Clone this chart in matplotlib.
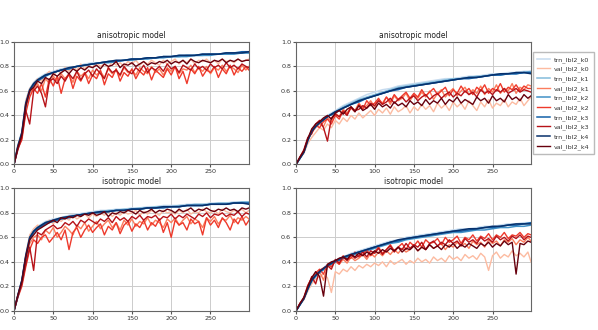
"""Accuracy curves per fold: anisotropic vs isotropic model, two label sets."""
import numpy as np
import matplotlib
matplotlib.use("Agg")
import matplotlib.pyplot as plt

# training curves are sampled coarser, validation curves every 5 epochs
trn_epochs = [0, 5, 10, 15, 20, 25, 30, 40, 50, 60, 70, 80, 90, 100, 110, 120, 130,
              140, 150, 160, 170, 180, 190, 200, 210, 220, 230, 240, 250, 260, 270,
              280, 290, 299]
val_epochs = list(range(0, 300, 5)) + [299]

folds = ["k0", "k1", "k2", "k3", "k4"]
titles = ["anisotropic model", "anisotropic model", "isotropic model", "isotropic model"]

# --- top-left: anisotropic ---
a1_trn = [
    [0.00, 0.16, 0.27, 0.52, 0.62, 0.67, 0.70, 0.74, 0.76, 0.78, 0.79, 0.80, 0.82, 0.83, 0.83, 0.84, 0.85, 0.85, 0.86, 0.86, 0.87, 0.87, 0.88, 0.88, 0.88, 0.89, 0.89, 0.89, 0.90, 0.90, 0.90, 0.91, 0.91, 0.91],
    [0.00, 0.15, 0.26, 0.50, 0.61, 0.66, 0.69, 0.73, 0.75, 0.77, 0.79, 0.80, 0.81, 0.82, 0.83, 0.84, 0.84, 0.85, 0.86, 0.86, 0.87, 0.87, 0.88, 0.88, 0.88, 0.89, 0.89, 0.89, 0.90, 0.90, 0.90, 0.91, 0.91, 0.91],
    [0.00, 0.15, 0.25, 0.49, 0.60, 0.65, 0.69, 0.73, 0.75, 0.77, 0.78, 0.80, 0.81, 0.82, 0.83, 0.83, 0.84, 0.85, 0.85, 0.86, 0.86, 0.87, 0.87, 0.88, 0.88, 0.88, 0.89, 0.89, 0.89, 0.90, 0.90, 0.90, 0.91, 0.91],
    [0.00, 0.14, 0.25, 0.48, 0.60, 0.65, 0.68, 0.72, 0.75, 0.77, 0.78, 0.80, 0.81, 0.82, 0.83, 0.84, 0.84, 0.85, 0.86, 0.86, 0.87, 0.87, 0.88, 0.88, 0.89, 0.89, 0.89, 0.90, 0.90, 0.90, 0.91, 0.91, 0.92, 0.92],
    [0.00, 0.15, 0.26, 0.50, 0.61, 0.66, 0.69, 0.73, 0.75, 0.77, 0.79, 0.80, 0.81, 0.82, 0.83, 0.84, 0.85, 0.85, 0.86, 0.86, 0.87, 0.87, 0.88, 0.88, 0.89, 0.89, 0.89, 0.90, 0.90, 0.90, 0.91, 0.91, 0.91, 0.92],
]
a1_val = [
    [0.00, 0.16, 0.26, 0.52, 0.62, 0.66, 0.70, 0.68, 0.73, 0.76,
     0.72, 0.77, 0.74, 0.79, 0.76, 0.80, 0.77, 0.82, 0.78, 0.81,
     0.79, 0.83, 0.80, 0.82, 0.79, 0.84, 0.81, 0.83, 0.80, 0.84,
     0.82, 0.85, 0.81, 0.84, 0.82, 0.85, 0.83, 0.81, 0.85, 0.82,
     0.84, 0.86, 0.82, 0.85, 0.83, 0.86, 0.82, 0.85, 0.84, 0.86,
     0.83, 0.85, 0.82, 0.86, 0.84, 0.85, 0.83, 0.86, 0.84, 0.85,
     0.86],
    [0.00, 0.14, 0.22, 0.46, 0.58, 0.62, 0.66, 0.60, 0.70, 0.66,
     0.72, 0.68, 0.74, 0.70, 0.73, 0.67, 0.76, 0.72, 0.75, 0.70,
     0.77, 0.73, 0.76, 0.71, 0.78, 0.74, 0.77, 0.72, 0.79, 0.75,
     0.77, 0.73, 0.79, 0.76, 0.74, 0.80, 0.75, 0.78, 0.73, 0.79,
     0.76, 0.80, 0.74, 0.78, 0.77, 0.81, 0.75, 0.79, 0.76, 0.80,
     0.74, 0.79, 0.77, 0.81, 0.76, 0.80, 0.78, 0.75, 0.81, 0.77,
     0.80],
    [0.00, 0.13, 0.20, 0.42, 0.55, 0.62, 0.58, 0.66, 0.55, 0.70,
     0.64, 0.72, 0.58, 0.70, 0.74, 0.62, 0.72, 0.68, 0.75, 0.66,
     0.73, 0.70, 0.77, 0.65, 0.74, 0.71, 0.78, 0.68, 0.75, 0.72,
     0.78, 0.70, 0.76, 0.73, 0.79, 0.69, 0.77, 0.74, 0.71, 0.78,
     0.73, 0.80, 0.70, 0.76, 0.66, 0.78, 0.74, 0.80, 0.72, 0.77,
     0.75, 0.80, 0.71, 0.78, 0.74, 0.81, 0.73, 0.79, 0.76, 0.80,
     0.77],
    [0.00, 0.12, 0.22, 0.44, 0.33, 0.60, 0.64, 0.58, 0.47, 0.68,
     0.70, 0.66, 0.72, 0.68, 0.74, 0.70, 0.76, 0.69, 0.74, 0.77,
     0.72, 0.78, 0.74, 0.70, 0.79, 0.75, 0.77, 0.73, 0.80, 0.76,
     0.74, 0.79, 0.76, 0.81, 0.75, 0.79, 0.77, 0.80, 0.76, 0.82,
     0.78, 0.80, 0.75, 0.81, 0.79, 0.77, 0.82, 0.78, 0.80, 0.77,
     0.82, 0.79, 0.81, 0.78, 0.83, 0.79, 0.81, 0.78, 0.82, 0.80,
     0.79],
    [0.00, 0.14, 0.24, 0.48, 0.60, 0.63, 0.68, 0.66, 0.71, 0.69,
     0.74, 0.72, 0.75, 0.77, 0.74, 0.78, 0.76, 0.79, 0.77, 0.80,
     0.79, 0.81, 0.78, 0.82, 0.80, 0.81, 0.84, 0.79, 0.82, 0.81,
     0.83, 0.80, 0.82, 0.84, 0.81, 0.83, 0.82, 0.84, 0.83, 0.85,
     0.82, 0.84, 0.83, 0.85, 0.82, 0.86, 0.84, 0.83, 0.85, 0.84,
     0.83, 0.85, 0.84, 0.86, 0.83, 0.85, 0.84, 0.86, 0.84, 0.85,
     0.85],
]

# --- top-right: anisotropic ---
a2_trn = [
    [0.00, 0.05, 0.10, 0.20, 0.28, 0.32, 0.35, 0.40, 0.44, 0.48, 0.51, 0.54, 0.57, 0.59, 0.61, 0.62, 0.64, 0.65, 0.66, 0.67, 0.68, 0.69, 0.70, 0.70, 0.71, 0.72, 0.72, 0.73, 0.74, 0.74, 0.75, 0.75, 0.76, 0.76],
    [0.00, 0.05, 0.10, 0.20, 0.27, 0.31, 0.34, 0.39, 0.43, 0.47, 0.50, 0.53, 0.55, 0.57, 0.59, 0.61, 0.63, 0.64, 0.65, 0.66, 0.67, 0.68, 0.69, 0.70, 0.70, 0.71, 0.72, 0.72, 0.73, 0.74, 0.74, 0.75, 0.75, 0.76],
    [0.00, 0.05, 0.10, 0.19, 0.27, 0.31, 0.34, 0.39, 0.43, 0.46, 0.49, 0.52, 0.54, 0.56, 0.58, 0.60, 0.62, 0.63, 0.64, 0.65, 0.66, 0.67, 0.68, 0.69, 0.70, 0.71, 0.71, 0.72, 0.73, 0.73, 0.74, 0.74, 0.75, 0.75],
    [0.00, 0.05, 0.10, 0.20, 0.27, 0.31, 0.34, 0.39, 0.42, 0.46, 0.49, 0.51, 0.54, 0.56, 0.58, 0.60, 0.61, 0.63, 0.64, 0.65, 0.66, 0.67, 0.68, 0.69, 0.70, 0.70, 0.71, 0.72, 0.73, 0.73, 0.74, 0.74, 0.75, 0.75],
    [0.00, 0.05, 0.10, 0.20, 0.27, 0.31, 0.34, 0.39, 0.43, 0.46, 0.49, 0.52, 0.54, 0.56, 0.58, 0.60, 0.62, 0.63, 0.64, 0.65, 0.66, 0.67, 0.68, 0.69, 0.70, 0.71, 0.71, 0.72, 0.73, 0.74, 0.74, 0.75, 0.75, 0.74],
]
a2_val = [
    [0.00, 0.05, 0.09, 0.17, 0.22, 0.26, 0.30, 0.28, 0.33, 0.30,
     0.36, 0.33, 0.38, 0.35, 0.40, 0.37, 0.42, 0.38, 0.41, 0.44,
     0.40, 0.45, 0.42, 0.46, 0.41, 0.47, 0.43, 0.45, 0.48, 0.42,
     0.47, 0.44, 0.49, 0.45, 0.48, 0.43, 0.50, 0.46, 0.49, 0.44,
     0.51, 0.47, 0.50, 0.45, 0.52, 0.48, 0.44, 0.51, 0.47, 0.53,
     0.46, 0.50, 0.48, 0.53, 0.47, 0.51, 0.49, 0.54, 0.48, 0.52,
     0.55],
    [0.00, 0.05, 0.10, 0.20, 0.26, 0.30, 0.33, 0.31, 0.38, 0.35,
     0.42, 0.39, 0.45, 0.42, 0.47, 0.44, 0.50, 0.46, 0.48, 0.52,
     0.47, 0.53, 0.50, 0.55, 0.49, 0.56, 0.52, 0.54, 0.58, 0.52,
     0.57, 0.54, 0.59, 0.55, 0.60, 0.53, 0.58, 0.61, 0.55, 0.59,
     0.62, 0.56, 0.60, 0.63, 0.57, 0.61, 0.58, 0.64, 0.57, 0.62,
     0.59, 0.65, 0.58, 0.62, 0.60, 0.66, 0.58, 0.63, 0.61, 0.65,
     0.64],
    [0.00, 0.06, 0.11, 0.21, 0.28, 0.32, 0.30, 0.35, 0.37, 0.33,
     0.40, 0.37, 0.44, 0.41, 0.46, 0.43, 0.49, 0.45, 0.52, 0.48,
     0.50, 0.54, 0.49, 0.55, 0.51, 0.57, 0.53, 0.56, 0.59, 0.54,
     0.58, 0.55, 0.61, 0.56, 0.59, 0.62, 0.57, 0.60, 0.63, 0.56,
     0.61, 0.58, 0.64, 0.59, 0.62, 0.57, 0.63, 0.60, 0.65, 0.58,
     0.62, 0.60, 0.66, 0.59, 0.63, 0.61, 0.65, 0.60, 0.64, 0.62,
     0.62],
    [0.00, 0.06, 0.12, 0.22, 0.25, 0.33, 0.36, 0.30, 0.19, 0.38,
     0.41, 0.39, 0.43, 0.40, 0.47, 0.44, 0.45, 0.48, 0.46, 0.50,
     0.48, 0.52, 0.49, 0.51, 0.54, 0.50, 0.53, 0.55, 0.51, 0.54,
     0.56, 0.52, 0.55, 0.57, 0.53, 0.56, 0.58, 0.54, 0.57, 0.59,
     0.55, 0.58, 0.56, 0.60, 0.57, 0.59, 0.55, 0.61, 0.58, 0.60,
     0.57, 0.61, 0.59, 0.62, 0.58, 0.60, 0.62, 0.59, 0.61, 0.60,
     0.59],
    [0.00, 0.06, 0.11, 0.21, 0.29, 0.33, 0.35, 0.38, 0.40, 0.37,
     0.42, 0.44, 0.41, 0.45, 0.47, 0.43, 0.48, 0.44, 0.46, 0.49,
     0.45, 0.50, 0.47, 0.49, 0.46, 0.51, 0.48, 0.50, 0.47, 0.52,
     0.49, 0.51, 0.48, 0.53, 0.49, 0.52, 0.50, 0.54, 0.49, 0.53,
     0.51, 0.55, 0.50, 0.53, 0.51, 0.49, 0.55, 0.52, 0.54, 0.50,
     0.56, 0.52, 0.54, 0.51, 0.57, 0.53, 0.55, 0.52, 0.57, 0.54,
     0.56],
]

# --- bottom-left: isotropic ---
i1_trn = [
    [0.00, 0.13, 0.25, 0.46, 0.61, 0.66, 0.69, 0.73, 0.75, 0.76, 0.78, 0.79, 0.80, 0.81, 0.82, 0.82, 0.83, 0.83, 0.84, 0.84, 0.85, 0.85, 0.86, 0.86, 0.86, 0.87, 0.87, 0.87, 0.88, 0.88, 0.88, 0.89, 0.89, 0.89],
    [0.00, 0.13, 0.25, 0.45, 0.60, 0.65, 0.68, 0.72, 0.74, 0.76, 0.77, 0.78, 0.79, 0.80, 0.81, 0.82, 0.82, 0.83, 0.83, 0.84, 0.84, 0.85, 0.85, 0.85, 0.86, 0.86, 0.87, 0.87, 0.87, 0.88, 0.88, 0.88, 0.89, 0.89],
    [0.00, 0.12, 0.24, 0.44, 0.59, 0.65, 0.68, 0.72, 0.74, 0.75, 0.77, 0.78, 0.79, 0.80, 0.81, 0.81, 0.82, 0.82, 0.83, 0.83, 0.84, 0.84, 0.85, 0.85, 0.85, 0.86, 0.86, 0.86, 0.87, 0.87, 0.87, 0.88, 0.88, 0.88],
    [0.00, 0.12, 0.24, 0.44, 0.58, 0.64, 0.67, 0.71, 0.73, 0.75, 0.76, 0.78, 0.79, 0.80, 0.80, 0.81, 0.82, 0.82, 0.83, 0.83, 0.84, 0.84, 0.84, 0.85, 0.85, 0.86, 0.86, 0.86, 0.87, 0.87, 0.87, 0.88, 0.88, 0.88],
    [0.00, 0.13, 0.25, 0.45, 0.60, 0.65, 0.68, 0.72, 0.74, 0.76, 0.77, 0.78, 0.79, 0.80, 0.81, 0.81, 0.82, 0.82, 0.83, 0.83, 0.84, 0.84, 0.85, 0.85, 0.85, 0.86, 0.86, 0.86, 0.87, 0.87, 0.87, 0.88, 0.88, 0.87],
]
i1_val = [
    [0.00, 0.13, 0.24, 0.46, 0.62, 0.67, 0.70, 0.68, 0.72, 0.74,
     0.71, 0.75, 0.73, 0.76, 0.74, 0.78, 0.75, 0.77, 0.79, 0.76,
     0.79, 0.77, 0.80, 0.78, 0.81, 0.77, 0.80, 0.78, 0.81, 0.79,
     0.80, 0.82, 0.78, 0.81, 0.79, 0.82, 0.80, 0.78, 0.82, 0.80,
     0.81, 0.79, 0.82, 0.80, 0.83, 0.79, 0.81, 0.80, 0.83, 0.81,
     0.80, 0.82, 0.79, 0.83, 0.81, 0.80, 0.82, 0.81, 0.83, 0.80,
     0.82],
    [0.00, 0.12, 0.22, 0.40, 0.55, 0.60, 0.62, 0.58, 0.66, 0.63,
     0.68, 0.60, 0.64, 0.69, 0.66, 0.62, 0.70, 0.67, 0.72, 0.65,
     0.69, 0.73, 0.67, 0.71, 0.74, 0.68, 0.72, 0.66, 0.74, 0.70,
     0.75, 0.69, 0.73, 0.71, 0.76, 0.70, 0.74, 0.72, 0.68, 0.75,
     0.72, 0.76, 0.70, 0.74, 0.77, 0.71, 0.75, 0.73, 0.68, 0.76,
     0.73, 0.77, 0.71, 0.75, 0.74, 0.78, 0.72, 0.76, 0.74, 0.77,
     0.75],
    [0.00, 0.11, 0.20, 0.36, 0.50, 0.58, 0.55, 0.60, 0.62, 0.56,
     0.60, 0.64, 0.58, 0.66, 0.50, 0.64, 0.68, 0.60, 0.66, 0.70,
     0.64, 0.68, 0.71, 0.62, 0.69, 0.66, 0.72, 0.63, 0.70, 0.73,
     0.65, 0.71, 0.68, 0.74, 0.66, 0.72, 0.69, 0.75, 0.64, 0.72,
     0.60, 0.74, 0.70, 0.72, 0.66, 0.75, 0.71, 0.73, 0.62, 0.76,
     0.70, 0.74, 0.68, 0.76, 0.72, 0.66, 0.75, 0.71, 0.77, 0.70,
     0.74],
    [0.00, 0.12, 0.22, 0.38, 0.52, 0.33, 0.64, 0.62, 0.66, 0.68,
     0.70, 0.67, 0.68, 0.72, 0.70, 0.73, 0.69, 0.74, 0.72, 0.75,
     0.73, 0.71, 0.75, 0.73, 0.76, 0.72, 0.77, 0.74, 0.76, 0.73,
     0.77, 0.75, 0.78, 0.74, 0.77, 0.76, 0.78, 0.74, 0.77, 0.76,
     0.79, 0.75, 0.78, 0.76, 0.79, 0.77, 0.75, 0.79, 0.77, 0.80,
     0.76, 0.79, 0.78, 0.80, 0.77, 0.79, 0.78, 0.81, 0.77, 0.80,
     0.79],
    [0.00, 0.13, 0.24, 0.44, 0.58, 0.62, 0.66, 0.68, 0.70, 0.72,
     0.74, 0.72, 0.76, 0.75, 0.77, 0.76, 0.78, 0.77, 0.79, 0.78,
     0.80, 0.78, 0.79, 0.81, 0.77, 0.80, 0.79, 0.81, 0.80, 0.82,
     0.81, 0.79, 0.82, 0.80, 0.81, 0.83, 0.80, 0.82, 0.81, 0.83,
     0.82, 0.80, 0.83, 0.81, 0.82, 0.84, 0.81, 0.83, 0.82, 0.84,
     0.82, 0.81, 0.83, 0.82, 0.84, 0.82, 0.83, 0.81, 0.84, 0.83,
     0.84],
]

# --- bottom-right: isotropic ---
i2_trn = [
    [0.00, 0.05, 0.10, 0.18, 0.25, 0.29, 0.32, 0.38, 0.41, 0.44, 0.47, 0.49, 0.51, 0.53, 0.55, 0.57, 0.58, 0.60, 0.61, 0.62, 0.63, 0.64, 0.65, 0.66, 0.67, 0.67, 0.68, 0.69, 0.69, 0.70, 0.71, 0.71, 0.72, 0.72],
    [0.00, 0.05, 0.10, 0.18, 0.25, 0.29, 0.32, 0.37, 0.40, 0.43, 0.46, 0.48, 0.50, 0.52, 0.54, 0.56, 0.57, 0.59, 0.60, 0.61, 0.62, 0.63, 0.64, 0.65, 0.66, 0.66, 0.67, 0.68, 0.68, 0.69, 0.70, 0.70, 0.71, 0.71],
    [0.00, 0.05, 0.10, 0.18, 0.24, 0.28, 0.31, 0.36, 0.40, 0.43, 0.45, 0.47, 0.49, 0.51, 0.53, 0.55, 0.56, 0.58, 0.59, 0.60, 0.61, 0.62, 0.63, 0.64, 0.64, 0.65, 0.66, 0.66, 0.67, 0.68, 0.68, 0.69, 0.69, 0.70],
    [0.00, 0.05, 0.10, 0.18, 0.25, 0.29, 0.32, 0.37, 0.40, 0.43, 0.46, 0.48, 0.50, 0.52, 0.54, 0.56, 0.57, 0.59, 0.60, 0.61, 0.62, 0.63, 0.64, 0.65, 0.65, 0.66, 0.67, 0.68, 0.68, 0.69, 0.70, 0.70, 0.71, 0.72],
    [0.00, 0.05, 0.10, 0.18, 0.25, 0.29, 0.32, 0.37, 0.41, 0.44, 0.46, 0.48, 0.50, 0.52, 0.54, 0.56, 0.58, 0.59, 0.60, 0.61, 0.62, 0.63, 0.64, 0.65, 0.66, 0.67, 0.67, 0.68, 0.69, 0.69, 0.70, 0.71, 0.71, 0.71],
]
i2_val = [
    [0.00, 0.05, 0.09, 0.16, 0.22, 0.26, 0.28, 0.30, 0.27, 0.15,
     0.32, 0.30, 0.34, 0.32, 0.36, 0.33, 0.37, 0.35, 0.38, 0.36,
     0.39, 0.37, 0.40, 0.36, 0.41, 0.38, 0.40, 0.42, 0.38, 0.41,
     0.39, 0.43, 0.40, 0.42, 0.39, 0.44, 0.41, 0.43, 0.40, 0.45,
     0.42, 0.44, 0.41, 0.46, 0.43, 0.45, 0.42, 0.47, 0.44, 0.33,
     0.45, 0.48, 0.43, 0.46, 0.44, 0.49, 0.45, 0.47, 0.44, 0.48,
     0.40],
    [0.00, 0.06, 0.10, 0.20, 0.26, 0.30, 0.32, 0.25, 0.36, 0.38,
     0.40, 0.38, 0.42, 0.39, 0.44, 0.41, 0.43, 0.46, 0.42, 0.47,
     0.44, 0.48, 0.45, 0.49, 0.46, 0.50, 0.47, 0.51, 0.48, 0.50,
     0.53, 0.49, 0.52, 0.50, 0.54, 0.51, 0.53, 0.55, 0.50, 0.54,
     0.52, 0.56, 0.53, 0.55, 0.51, 0.57, 0.54, 0.56, 0.52, 0.58,
     0.55, 0.57, 0.53, 0.58, 0.56, 0.59, 0.54, 0.58, 0.56, 0.60,
     0.57],
    [0.00, 0.06, 0.11, 0.21, 0.27, 0.31, 0.34, 0.30, 0.38, 0.36,
     0.41, 0.38, 0.45, 0.42, 0.43, 0.48, 0.44, 0.46, 0.50, 0.45,
     0.48, 0.52, 0.47, 0.50, 0.54, 0.49, 0.52, 0.55, 0.50, 0.56,
     0.53, 0.57, 0.52, 0.58, 0.55, 0.56, 0.59, 0.54, 0.60, 0.56,
     0.58, 0.61, 0.55, 0.60, 0.58, 0.62, 0.57, 0.61, 0.59, 0.63,
     0.58, 0.62, 0.60, 0.64, 0.59, 0.62, 0.61, 0.64, 0.60, 0.63,
     0.62],
    [0.00, 0.06, 0.10, 0.19, 0.28, 0.22, 0.33, 0.35, 0.37, 0.34,
     0.42, 0.39, 0.44, 0.41, 0.46, 0.43, 0.45, 0.48, 0.44, 0.49,
     0.47, 0.51, 0.46, 0.50, 0.53, 0.48, 0.52, 0.50, 0.55, 0.51,
     0.54, 0.52, 0.56, 0.50, 0.55, 0.57, 0.53, 0.56, 0.54, 0.58,
     0.55, 0.57, 0.53, 0.59, 0.56, 0.58, 0.55, 0.60, 0.57, 0.59,
     0.56, 0.61, 0.58, 0.60, 0.57, 0.61, 0.59, 0.62, 0.58, 0.61,
     0.60],
    [0.00, 0.06, 0.11, 0.20, 0.27, 0.32, 0.28, 0.12, 0.38, 0.40,
     0.41, 0.43, 0.44, 0.42, 0.46, 0.44, 0.47, 0.45, 0.48, 0.46,
     0.49, 0.47, 0.50, 0.48, 0.51, 0.49, 0.52, 0.48, 0.51, 0.50,
     0.53, 0.49, 0.52, 0.50, 0.54, 0.51, 0.53, 0.50, 0.54, 0.52,
     0.55, 0.51, 0.54, 0.52, 0.55, 0.53, 0.51, 0.55, 0.53, 0.56,
     0.52, 0.55, 0.53, 0.57, 0.54, 0.56, 0.30, 0.55, 0.54, 0.57,
     0.56],
]

panels = [(a1_trn, a1_val), (a2_trn, a2_val), (i1_trn, i1_val), (i2_trn, i2_val)]

blues = plt.cm.Blues(np.linspace(0.25, 1.0, 5))
reds = plt.cm.Reds(np.linspace(0.25, 1.0, 5))

fig, axes = plt.subplots(2, 2, figsize=(5.98, 3.30), dpi=100)
fig.subplots_adjust(left=0.0234, right=0.888, top=0.873, bottom=0.058,
                    wspace=0.2, hspace=0.195)
axes = axes.flatten()

for ax, title, (trn, val) in zip(axes, titles, panels):
    for k in range(5):
        ax.plot(trn_epochs, trn[k], color=blues[k], linewidth=1.1,
                label=f"trn_lbl2_{folds[k]}")
        ax.plot(val_epochs, val[k], color=reds[k], linewidth=1.0,
                label=f"val_lbl2_{folds[k]}")
    ax.set_xlim(0, 299)
    ax.set_ylim(0, 1.0)
    ax.set_xticks([0, 50, 100, 150, 200, 250])
    ax.set_yticks([0.0, 0.2, 0.4, 0.6, 0.8, 1.0])
    ax.tick_params(axis="both", labelsize=4.6, length=2, pad=1.5,
                   color="#555555", labelcolor="#333333")
    ax.tick_params(axis="x", labelbottom=True)
    ax.grid(True, color="#cccccc", linewidth=0.7)
    for sp in ax.spines.values():
        sp.set_color("#666666")
    ax.set_title(title, fontsize=5.5, pad=3, color="#222222")

handles, labels = axes[1].get_legend_handles_labels()
fig.legend(handles, labels, loc="upper left", bbox_to_anchor=(533 / 598, 1 - 52 / 330),
           borderaxespad=0, fontsize=4.6, labelspacing=0.55, handlelength=1.9,
           handletextpad=0.6, borderpad=0.7, frameon=True, fancybox=False,
           edgecolor="#aaaaaa", labelcolor="#333333")

fig.savefig("out.png", dpi=100)
